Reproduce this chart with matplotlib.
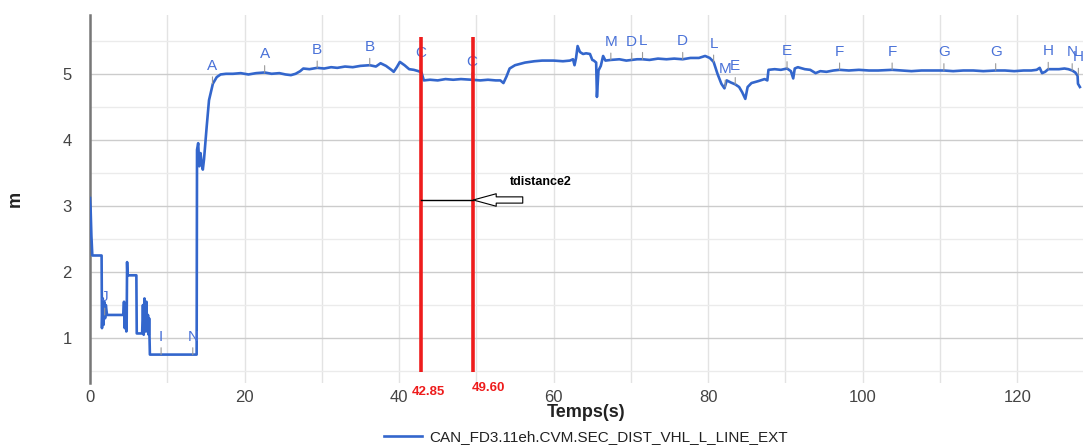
import numpy as np
import matplotlib
matplotlib.use("Agg")
import matplotlib.pyplot as plt
from matplotlib.ticker import MultipleLocator

plt.rcParams['font.family'] = ['Liberation Sans', 'DejaVu Sans']

# signal samples (time in s, distance in m)
t_start = [0.0, 0.08, 0.18, 0.3, 1.5, 1.55, 1.65, 1.75, 1.85, 1.95, 2.05, 2.2, 4.3, 4.4, 4.5, 4.6, 4.7,
           4.75, 4.8, 4.85, 6.0, 6.05, 6.75, 6.85, 6.95, 7.05, 7.15, 7.3, 7.4, 7.5, 7.6, 7.65, 7.7, 7.75]
v_start = [3.12, 2.95, 2.55, 2.25, 2.25, 1.15, 1.60, 1.20, 1.55, 1.30, 1.50, 1.35, 1.35, 1.55, 1.15, 1.50, 1.10,
           1.30, 2.15, 1.95, 1.95, 1.07, 1.07, 1.50, 1.05, 1.60, 1.10, 1.55, 1.10, 1.35, 1.05, 1.30, 1.05, 0.75]

t_rise = [13.8, 13.85, 14.0, 14.15, 14.3, 14.45, 14.6, 14.75, 15.1, 15.4, 15.9, 16.4, 16.9, 17.6]
v_rise = [0.75, 3.85, 3.95, 3.60, 3.80, 3.65, 3.55, 3.70, 4.20, 4.60, 4.85, 4.95, 4.99, 5.00]

t_first = [18.5, 19.5, 20.5, 21.5, 22.6, 23.5, 24.5, 25.3, 26.0, 26.6, 27.2, 27.6, 28.4, 29.4, 30.3, 31.2, 32.0,
           33.0, 34.0, 35.0, 36.2, 37.0, 37.6, 38.3, 39.0, 39.3, 39.7, 40.1, 40.7, 41.3, 41.9, 42.5, 42.9, 43.2]
v_first = [5.00, 5.01, 4.99, 5.01, 5.02, 5.00, 5.01, 4.99, 4.98, 5.00, 5.04, 5.08, 5.07, 5.09, 5.08, 5.10, 5.09,
           5.11, 5.10, 5.12, 5.13, 5.11, 5.16, 5.12, 5.06, 5.03, 5.10, 5.18, 5.13, 5.07, 5.06, 5.04, 5.02, 4.90]

t_flat = [44.0, 45.0, 46.0, 47.0, 48.0, 49.4, 50.5, 51.5, 52.5, 53.1, 53.5, 53.9]
v_flat = [4.91, 4.90, 4.92, 4.91, 4.92, 4.91, 4.90, 4.91, 4.90, 4.90, 4.86, 4.96]

t_mid = [54.3, 55.0, 56.3, 57.5, 58.5, 60.0, 61.2, 62.1, 62.5, 62.7, 62.9, 63.1, 63.4, 63.8, 64.2, 64.7,
         65.0, 65.2, 65.5, 65.6, 65.8, 66.1, 66.4, 66.7]
v_mid = [5.08, 5.13, 5.17, 5.19, 5.20, 5.20, 5.19, 5.20, 5.22, 5.13, 5.24, 5.42, 5.33, 5.30, 5.31, 5.30,
         5.21, 5.20, 5.17, 4.65, 5.05, 5.12, 5.27, 5.20]

t_high = [67.4, 68.5, 69.4, 70.1, 70.8, 71.5, 72.4, 73.5, 74.6, 75.6, 76.7, 77.7, 78.8, 79.6, 80.2,
          80.7, 81.2, 81.7, 82.1, 82.4, 82.9, 83.5, 84.0, 84.4, 84.8, 85.1, 85.6, 86.5, 87.3, 87.65]
v_high = [5.21, 5.22, 5.20, 5.21, 5.22, 5.22, 5.21, 5.23, 5.22, 5.23, 5.22, 5.24, 5.24, 5.27, 5.24,
          5.18, 5.00, 4.85, 4.78, 4.90, 4.87, 4.84, 4.80, 4.72, 4.62, 4.80, 4.86, 4.89, 4.92, 4.90]

t_end = [87.8, 88.6, 89.4, 90.2, 90.7, 91.0, 91.2, 91.6, 92.5, 93.2, 93.9, 94.5, 95.3, 96.2, 97.0,
         98.2, 99.5, 100.8, 102.0, 103.8, 105.0, 106.3, 107.6, 108.8, 110.5, 111.7, 113.0, 114.3,
         115.6, 117.2, 118.4, 119.6, 120.8, 121.8, 122.5, 122.9, 123.2, 123.6, 124.0, 124.6, 125.4,
         126.1, 126.6, 127.1, 127.5, 127.8, 127.85, 128.1]
v_end = [5.06, 5.07, 5.06, 5.08, 5.04, 4.93, 5.08, 5.10, 5.07, 5.06, 5.01, 5.04, 5.03, 5.05, 5.06,
         5.05, 5.06, 5.05, 5.05, 5.06, 5.05, 5.04, 5.05, 5.05, 5.05, 5.04, 5.05, 5.05,
         5.04, 5.05, 5.05, 5.04, 5.05, 5.05, 5.06, 5.09, 5.01, 5.03, 5.07, 5.07, 5.07,
         5.08, 5.07, 5.05, 5.02, 4.97, 4.85, 4.80]

# letter annotations on the curve
ann_t = [1.9, 9.2, 13.3, 15.85, 22.6, 29.4, 36.2, 42.75, 49.4, 67.4, 70.1, 71.5, 76.7, 80.7,
         82.2, 83.5, 90.2, 97.0, 103.8, 110.5, 117.2, 124.0, 127.1, 127.9]
ann_v = [1.35, 0.75, 0.75, 4.85, 5.02, 5.09, 5.13, 5.04, 4.91, 5.21, 5.21, 5.22, 5.22, 5.18,
         4.80, 4.84, 5.08, 5.06, 5.06, 5.05, 5.05, 5.07, 5.05, 4.98]
ann_txt = ['J', 'I', 'N', 'A', 'A', 'B', 'B', 'C', 'C', 'M', 'D', 'L', 'D', 'L',
           'M', 'E', 'E', 'F', 'F', 'G', 'G', 'H', 'N', 'H']

# cursors
cursor_t = [42.85, 49.60]
cursor_lbl = ['42.85', '49.60']
cursor_lbl_x = [41.7, 49.4]
cursor_lbl_y = [0.18, 0.24]
delta_y = 3.09
delta_name = 'tdistance2'

series_name = 'CAN_FD3.11eh.CVM.SEC_DIST_VHL_L_LINE_EXT'

t = np.concatenate([t_start, t_rise, t_first, t_flat, t_mid, t_high, t_end])
v = np.concatenate([v_start, v_rise, v_first, v_flat, v_mid, v_high, v_end])

fig = plt.figure(figsize=(10.84, 4.48), dpi=100)
fig.set_facecolor('white')
ax = fig.add_axes([90 / 1084, 65 / 448, 993 / 1084, 368 / 448])

line, = ax.plot(t, v, color='#3366cc', lw=1.9, zorder=3, label=series_name)

for x, y, s in zip(ann_t, ann_v, ann_txt):
    ax.annotate(s, xy=(x, y), xytext=(0, 14), textcoords='offset pixels',
                ha='center', va='baseline', fontsize=11, color='#4a72d8',
                arrowprops=dict(arrowstyle='-', color='#999999', lw=0.8,
                                shrinkA=1, shrinkB=0),
                zorder=4, annotation_clip=False)

# red cursors and their labels
ax.vlines(cursor_t, 0.48, 5.55, colors='#ee1c1c', lw=2.6, zorder=5)
for x, y, s in zip(cursor_lbl_x, cursor_lbl_y, cursor_lbl):
    ax.text(x, y, s, color='#ee1c1c', fontsize=9.5, fontweight='bold',
            ha='left', va='center', clip_on=False)

# delta marker between cursors
ax.plot(cursor_t, [delta_y, delta_y], color='black', lw=1, zorder=6)
ax.annotate('', xy=(cursor_t[1], delta_y), xytext=(56.0, delta_y),
            arrowprops=dict(arrowstyle='simple,head_length=1.1,head_width=0.6,tail_width=0.3',
                            fc='white', ec='black', lw=0.8, shrinkA=0, shrinkB=0,
                            mutation_scale=15),
            zorder=6)
ax.text(54.3, 3.36, delta_name, fontsize=9, fontweight='bold', ha='left', va='center')

ax.set_xlim(0, 128.5)
ax.set_ylim(0.32, 5.89)
ax.xaxis.set_major_locator(MultipleLocator(20))
ax.xaxis.set_minor_locator(MultipleLocator(10))
ax.yaxis.set_major_locator(MultipleLocator(1))
ax.yaxis.set_minor_locator(MultipleLocator(0.5))
ax.grid(axis='y', which='major', color='#cccccc', lw=1)
ax.grid(axis='y', which='minor', color='#ebebeb', lw=1)
ax.grid(axis='x', which='both', color='#e3e3e3', lw=1)
ax.set_axisbelow(True)

ax.tick_params(which='both', length=0)
ax.tick_params(axis='x', labelsize=12, labelcolor='#444444', pad=5)
ax.tick_params(axis='y', labelsize=12, labelcolor='#444444', pad=13)
for side in ['top', 'right', 'bottom']:
    ax.spines[side].set_visible(False)
ax.spines['left'].set_color('#777777')
ax.spines['left'].set_linewidth(1.8)
ax.spines['left'].set_zorder(2)

ax.set_ylabel('m', fontsize=13, fontweight='bold', color='#222222')
ax.yaxis.set_label_coords(-0.0755, 0.5)
ax.yaxis.label.set_va('center')
ax.set_xlabel('Temps(s)', fontsize=13, fontweight='bold', color='#222222')
ax.xaxis.set_label_coords(0.5, -0.0815)
ax.xaxis.label.set_va('center')

fig.legend(handles=[line], loc='center', bbox_to_anchor=(586 / 1084, 11 / 448),
           frameon=False, fontsize=11, handlelength=2.5, handletextpad=0.5,
           labelcolor='#222222')

fig.savefig('out.png', dpi=100)
